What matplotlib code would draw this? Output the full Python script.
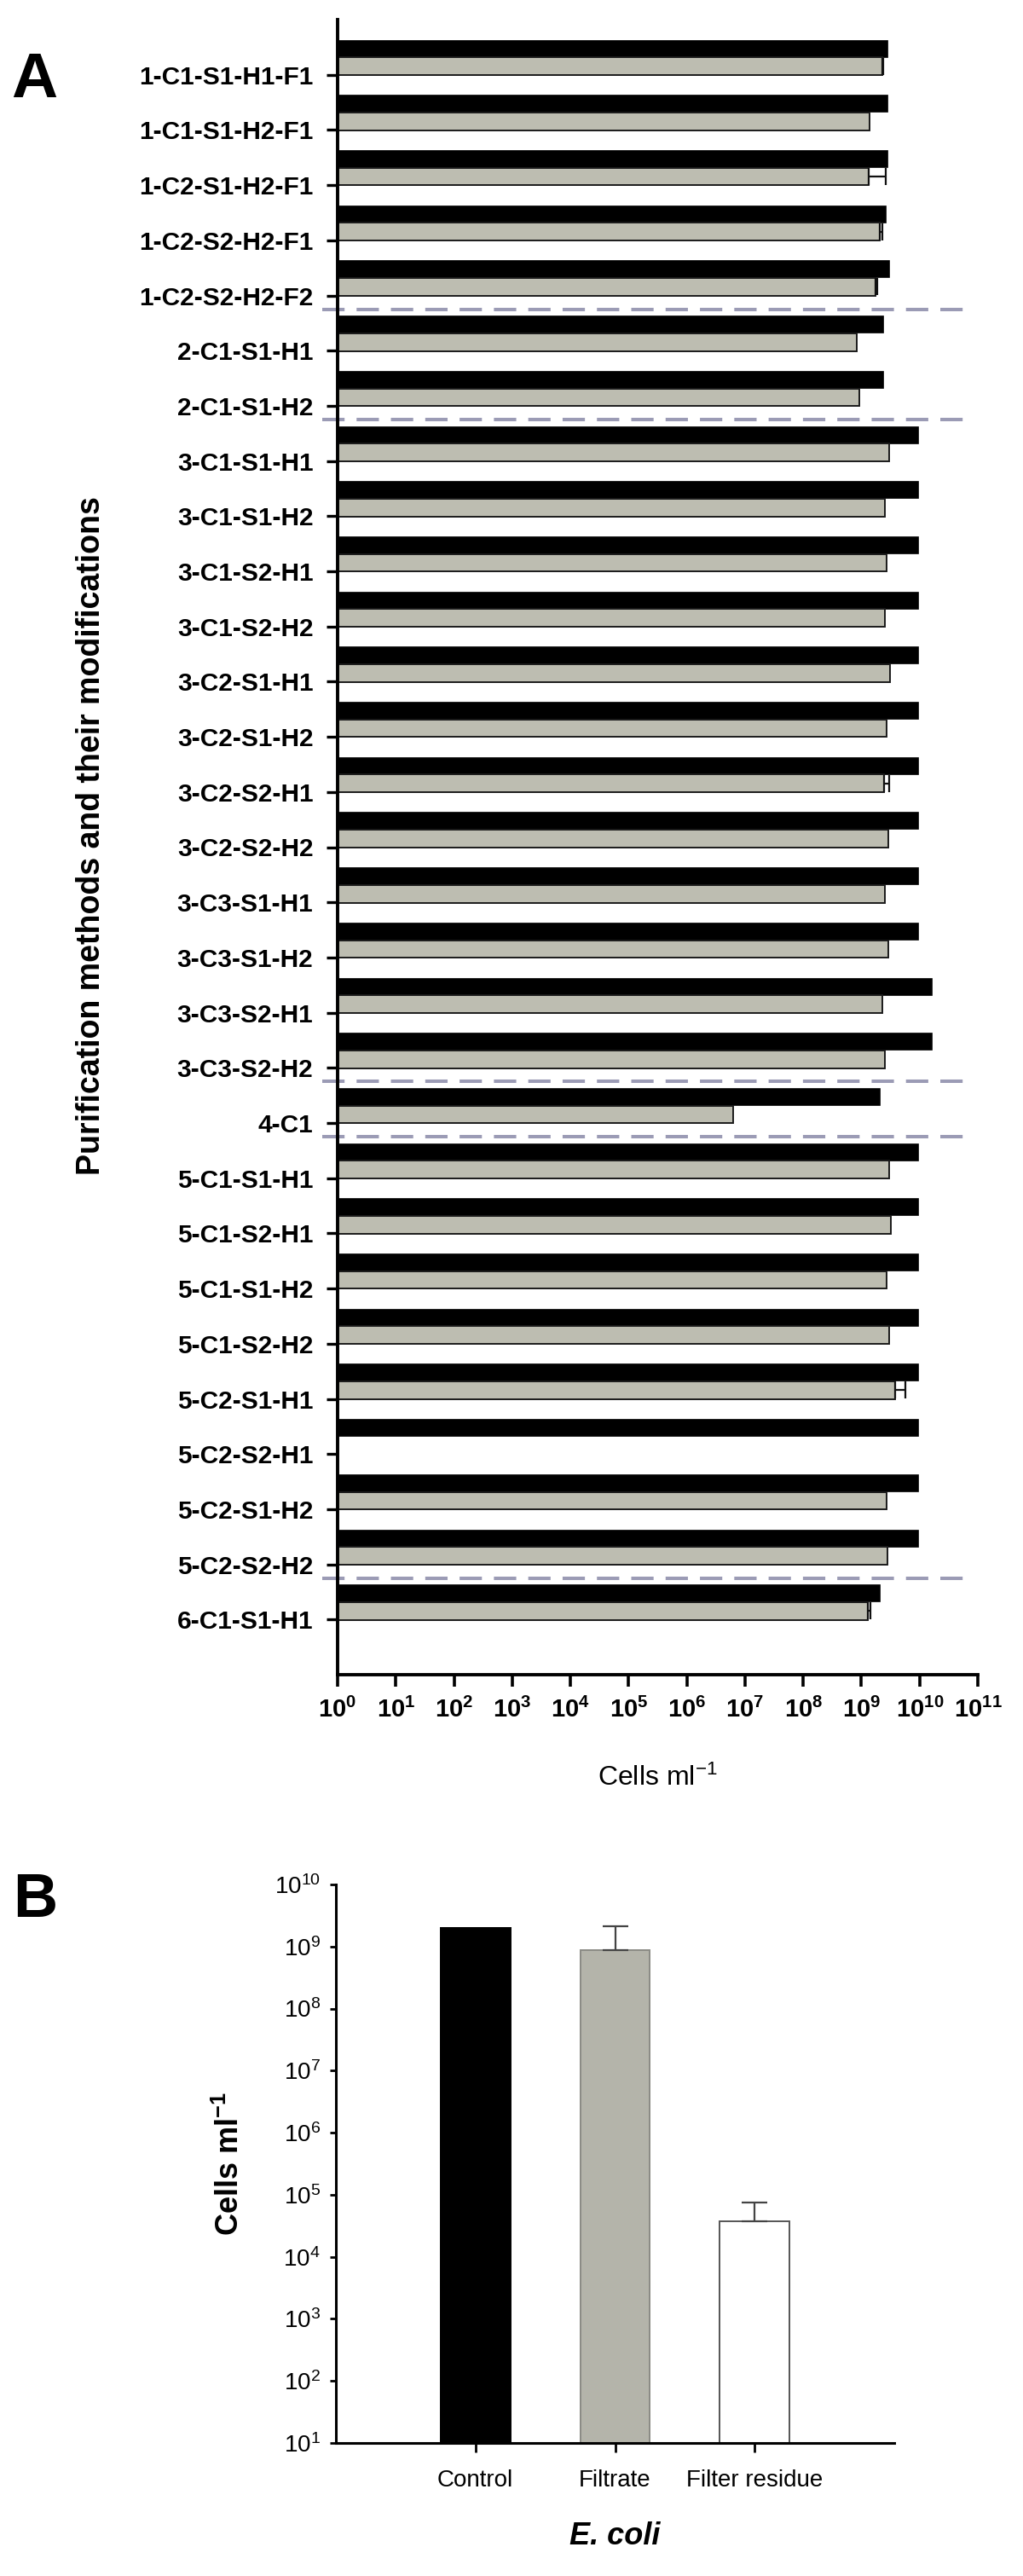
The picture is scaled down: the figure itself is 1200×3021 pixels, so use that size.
import numpy as np
import matplotlib
matplotlib.use('Agg')
import matplotlib.pyplot as plt
from matplotlib.ticker import FixedLocator, NullLocator

plt.rcParams['font.family'] = ['Liberation Sans', 'DejaVu Sans']
plt.rcParams['mathtext.fontset'] = 'custom'
plt.rcParams['mathtext.rm'] = 'Liberation Sans'
plt.rcParams['mathtext.bf'] = 'Liberation Sans:bold'
plt.rcParams['mathtext.it'] = 'Liberation Sans:italic'

# ---------------- data: panel A ----------------
methods = ['1-C1-S1-H1-F1', '1-C1-S1-H2-F1', '1-C2-S1-H2-F1', '1-C2-S2-H2-F1', '1-C2-S2-H2-F2',
           '2-C1-S1-H1', '2-C1-S1-H2',
           '3-C1-S1-H1', '3-C1-S1-H2', '3-C1-S2-H1', '3-C1-S2-H2', '3-C2-S1-H1', '3-C2-S1-H2',
           '3-C2-S2-H1', '3-C2-S2-H2', '3-C3-S1-H1', '3-C3-S1-H2', '3-C3-S2-H1', '3-C3-S2-H2',
           '4-C1',
           '5-C1-S1-H1', '5-C1-S2-H1', '5-C1-S1-H2', '5-C1-S2-H2', '5-C2-S1-H1', '5-C2-S2-H1',
           '5-C2-S1-H2', '5-C2-S2-H2',
           '6-C1-S1-H1']
control = [2.8e9, 2.8e9, 2.8e9, 2.6e9, 3.0e9,
           2.4e9, 2.4e9,
           9.3e9, 9.3e9, 9.3e9, 9.3e9, 9.3e9, 9.3e9,
           9.3e9, 9.3e9, 9.3e9, 9.3e9, 1.6e10, 1.6e10,
           2.1e9,
           9.3e9, 9.3e9, 9.3e9, 9.3e9, 9.3e9, 9.3e9,
           9.3e9, 9.3e9,
           2.1e9]
purified = [2.3e9, 1.4e9, 1.35e9, 2.1e9, 1.75e9,
            8.3e8, 9.1e8,
            2.95e9, 2.5e9, 2.75e9, 2.5e9, 3.15e9, 2.75e9,
            2.45e9, 2.9e9, 2.5e9, 2.9e9, 2.3e9, 2.5e9,
            6.3e6,
            2.95e9, 3.2e9, 2.75e9, 2.95e9, 3.8e9, 0.0,
            2.75e9, 2.8e9,
            1.3e9]
purified_err = [1.0e8, 0.0, 1.25e9, 2.0e8, 1.5e8,
                0.0, 0.0,
                0.0, 0.0, 0.0, 0.0, 0.0, 0.0,
                5.0e8, 0.0, 0.0, 0.0, 0.0, 0.0,
                0.0,
                0.0, 0.0, 0.0, 0.0, 1.95e9, 0.0,
                0.0, 0.0,
                1.5e8]
separators_after = ['1-C2-S2-H2-F2', '2-C1-S1-H2', '3-C3-S2-H2', '4-C1', '5-C2-S2-H2']
a_xticks_exp = list(range(0, 12))

# ---------------- data: panel B ----------------
b_categories = ['Control', 'Filtrate', 'Filter residue']
b_values = [2.0e9, 8.7e8, 3.7e4]
b_err = [0.0, 1.23e9, 3.9e4]
b_yticks_exp = list(range(1, 11))

# ---------------- figure ----------------
W, H = 1200, 3021
fig = plt.figure(figsize=(W / 100, H / 100), dpi=100)

def fx(px):
    return px / W

def fy(py):
    return 1 - py / H

BLACK = '#000000'
GREY = '#bdbdb1'
SEP = '#9b9bb5'

# ---- panel A ----
axA = fig.add_axes([fx(396), fy(1964), fx(1147) - fx(396), fy(23) - fy(1964)])
axA.set_xscale('log')
n = len(methods)
pos = np.arange(1, n + 1)
ctrl = np.array(control)
pur = np.array(purified)
perr = np.array(purified_err)

axA.barh(pos - 0.48, ctrl - 1, left=1, height=0.31, color=BLACK, edgecolor=BLACK, linewidth=0.5)
mask = pur > 0
axA.barh(pos[mask] - 0.155, pur[mask] - 1, left=1, height=0.32, color=GREY,
         edgecolor='#1a1a1a', linewidth=1.4)
emask = perr > 0
axA.errorbar(pur[emask], pos[emask] - 0.155, xerr=[np.zeros(emask.sum()), perr[emask]],
             fmt='none', ecolor='#111111', elinewidth=1.6, capsize=7, capthick=1.6)

for name in separators_after:
    i = methods.index(name) + 1
    axA.plot([10 ** -0.26, 10 ** 10.88], [i + 0.25, i + 0.25], color=SEP, lw=2.9,
             dashes=(6.5, 3.5), clip_on=False, solid_capstyle='butt', dash_capstyle='butt')

axA.set_xlim(1, 1e11)
axA.set_ylim(n + 1, 0)
axA.yaxis.set_major_locator(FixedLocator(pos))
axA.set_yticklabels(methods, fontsize=21.5, fontweight='bold')
axA.xaxis.set_major_locator(FixedLocator([10.0 ** e for e in a_xticks_exp]))
axA.xaxis.set_minor_locator(NullLocator())
axA.set_xticklabels([r'$\mathbf{10^{%d}}$' % e for e in a_xticks_exp], fontsize=21)
axA.tick_params(axis='y', direction='out', length=9.5, width=2.4, pad=11)
axA.tick_params(axis='x', direction='out', length=10, width=2.6, pad=9)
for s in ['top', 'right']:
    axA.spines[s].set_visible(False)
for s in ['left', 'bottom']:
    axA.spines[s].set_linewidth(2.8)

axA.set_xlabel(r'Cells ml$^{-1}$', fontsize=23)
axA.xaxis.set_label_coords(0.5, -(2085 - 1964) / (1964 - 23))
axA.xaxis.label.set_va('center')
axA.set_ylabel('Purification methods and their modifications', fontsize=27, fontweight='bold')
axA.yaxis.set_label_coords(-(396 - 107) / (1147 - 396), (1964 - 980) / (1964 - 23))
axA.yaxis.label.set_va('center')

fig.text(fx(40), fy(95), 'A', fontsize=54, fontweight='bold', ha='center', va='center')

# ---- panel B ----
axB = fig.add_axes([fx(394), fy(2865), fx(1049) - fx(394), fy(2210) - fy(2865)])
axB.set_yscale('log')
bx = np.arange(1, len(b_categories) + 1)
bcol = [BLACK, '#b4b4aa', '#ffffff']
bedge = [BLACK, '#8a8a84', '#555555']
for xi, v, c, e in zip(bx, b_values, bcol, bedge):
    axB.bar(xi, v - 10, bottom=10, width=0.5, color=c, edgecolor=e, linewidth=1.4)
be = np.array(b_err)
bm = be > 0
axB.errorbar(bx[bm], np.array(b_values)[bm], yerr=[np.zeros(bm.sum()), be[bm]], fmt='none',
             ecolor='#444444', elinewidth=1.6, capsize=11, capthick=1.6)
axB.set_xlim(0, 4)
axB.set_ylim(10, 1e10)
axB.yaxis.set_major_locator(FixedLocator([10.0 ** e for e in b_yticks_exp]))
axB.yaxis.set_minor_locator(NullLocator())
axB.set_yticklabels([r'$\mathregular{10^{%d}}$' % e for e in b_yticks_exp], fontsize=20)
axB.set_xticks(bx)
axB.set_xticklabels(b_categories, fontsize=20)
axB.tick_params(axis='y', direction='out', length=5, width=2, pad=8)
axB.tick_params(axis='x', direction='out', length=8, width=2, pad=14)
for s in ['top', 'right']:
    axB.spines[s].set_visible(False)
for s in ['left', 'bottom']:
    axB.spines[s].set_linewidth(2.2)
axB.set_ylabel(r'Cells ml$^{\mathbf{-1}}$', fontsize=26, fontweight='bold')
axB.yaxis.set_label_coords(-(394 - 270) / (1049 - 394), 0.5)
axB.yaxis.label.set_va('center')
axB.set_xlabel('E. coli', fontsize=26, fontweight='bold', fontstyle='italic')
axB.xaxis.set_label_coords(0.5, -(2974 - 2865) / (2865 - 2210))
axB.xaxis.label.set_va('center')

fig.text(fx(41), fy(2229), 'B', fontsize=52, fontweight='bold', ha='center', va='center')

fig.savefig('out.png', dpi=100, facecolor='white')
